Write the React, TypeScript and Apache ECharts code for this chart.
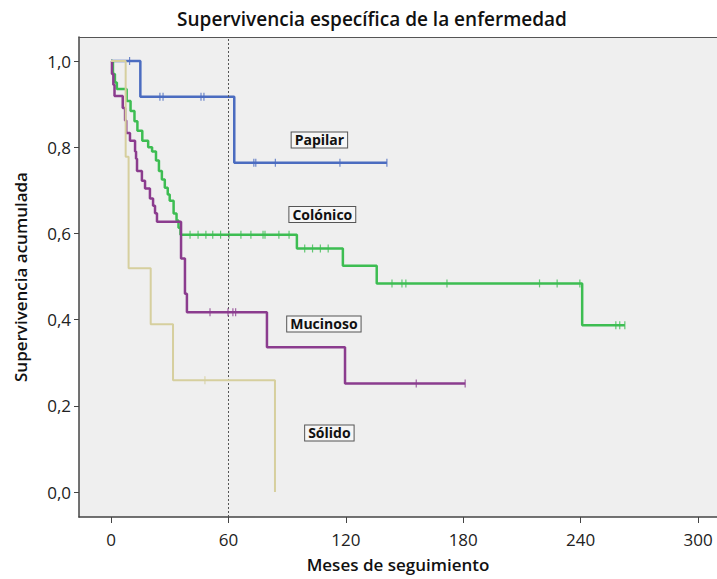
import React, { useEffect, useRef } from "react";
import * as echarts from "echarts";

// Kaplan-Meier steps: each point is [time of drop, survival after drop]
const papilarT = [0, 15, 63, 141];
const papilarS = [1, 0.917, 0.764, 0.764];
const papilarCens = [9.5, 25, 26.6, 46, 47.5, 73, 74, 84, 117, 141];

const colonicoT = [0, 1, 2, 3, 8, 10, 12, 13.5, 16, 19, 21, 23, 24.5, 26, 27.5, 29, 30, 32, 33.5, 34.5, 35.5, 95, 118.5, 135.8, 240.8, 262.6];
const colonicoS = [1, 0.97, 0.95, 0.935, 0.907, 0.884, 0.86, 0.838, 0.815, 0.8, 0.79, 0.769, 0.745, 0.725, 0.706, 0.69, 0.676, 0.646, 0.63, 0.613, 0.597, 0.565, 0.525, 0.484, 0.387, 0.387];
const colonicoCens = [40.4, 44.5, 48.5, 52, 56, 60.3, 66.4, 71.5, 77.7, 78.7, 85.8, 91, 99, 103, 107, 111, 143.6, 148.7, 150.7, 171.7, 219, 228, 239.6, 258, 260, 262.6];

const mucinosoT = [0, 0.5, 1.2, 1.8, 6, 7.2, 7.8, 9.7, 12.3, 12.8, 13.3, 15.8, 17.4, 19.9, 21.5, 22.5, 23.5, 35.8, 37.8, 38.8, 79.7, 119.6, 181];
const mucinosoS = [1, 0.97, 0.945, 0.919, 0.891, 0.862, 0.833, 0.815, 0.79, 0.773, 0.745, 0.722, 0.704, 0.681, 0.664, 0.647, 0.627, 0.542, 0.46, 0.417, 0.336, 0.252, 0.252];
const mucinosoCens = [50.6, 59.8, 62.3, 63.7, 156, 181];

const solidoT = [0, 7.5, 9, 20.3, 31.7, 83.8];
const solidoS = [1, 0.778, 0.519, 0.389, 0.259, 0];
const solidoCens = [48];

const xTicks = [0, 60, 120, 180, 240, 300];
const yTicks = [0, 0.2, 0.4, 0.6, 0.8, 1.0];
const cutoffMonth = 60;

const groups = [
  { name: "Papilar", t: papilarT, s: papilarS, cens: papilarCens, color: "#4b6cc0", width: 2.5, label: [106.5, 0.817] },
  { name: "Colónico", t: colonicoT, s: colonicoS, cens: colonicoCens, color: "#3dbd52", width: 2.5, label: [108, 0.644] },
  { name: "Mucinoso", t: mucinosoT, s: mucinosoS, cens: mucinosoCens, color: "#8b3c8e", width: 2.5, label: [108.8, 0.39] },
  { name: "Sólido", t: solidoT, s: solidoS, cens: solidoCens, color: "#d6cf9e", width: 2, label: [111.6, 0.137] },
];

// survival value of a step curve at time x
function survivalAt(t: number[], s: number[], x: number) {
  let v = s[0];
  for (let i = 0; i < t.length; i++) {
    if (t[i] <= x) v = s[i];
  }
  return v;
}

const FONT = "'Open Sans', 'DejaVu Sans', sans-serif";

export default function App() {
  const ref = useRef<HTMLDivElement>(null);

  useEffect(() => {
    if (!ref.current) return;
    const chart = echarts.init(ref.current, null, { renderer: "svg" });

    const series: any[] = [];
    groups.forEach((g, gi) => {
      series.push({
        name: g.name,
        type: "line",
        step: "end",
        showSymbol: false,
        symbol: "none",
        data: g.t.map((t, i) => [t, g.s[i]]),
        lineStyle: { color: g.color, width: g.width },
        z: 3 + gi,
        markPoint: {
          symbol: "rect",
          symbolSize: 0,
          data: [
            {
              coord: g.label,
              label: {
                show: true,
                position: "inside",
                formatter: g.name,
                color: "#111",
                fontFamily: FONT,
                fontWeight: "bold",
                fontSize: 14,
                backgroundColor: "#f6f6f6",
                borderColor: "#555",
                borderWidth: 1,
                padding: [1, 3, 0, 3],
              },
            },
          ],
        },
        markLine:
          gi === 0
            ? {
                symbol: "none",
                silent: true,
                label: { show: false },
                lineStyle: { color: "#555", type: [2, 2], width: 1 },
                data: [{ xAxis: cutoffMonth }],
              }
            : undefined,
      });
      series.push({
        name: g.name + " censurado",
        type: "scatter",
        symbol: "rect",
        symbolSize: [1.2, 8],
        itemStyle: { color: g.color },
        data: g.cens.map((c) => [c, survivalAt(g.t, g.s, c)]),
        z: 3 + gi,
      });
    });

    chart.setOption({
      animation: false,
      backgroundColor: "#ffffff",
      title: {
        text: "Supervivencia específica de la enfermedad",
        left: 367,
        top: 4,
        textAlign: "center",
        textStyle: { fontFamily: FONT, fontWeight: 600, fontSize: 19, color: "#111" },
      },
      grid: {
        left: 79,
        right: 0,
        top: 37,
        bottom: 62,
        show: true,
        backgroundColor: "#efefef",
        borderWidth: 0,
      },
      xAxis: [
        {
          type: "value",
          min: -16.35,
          max: 309.7,
          name: "Meses de seguimiento",
          nameLocation: "middle",
          nameGap: 39,
          nameTextStyle: { fontFamily: FONT, fontWeight: 600, fontSize: 17, color: "#111" },
          axisLine: { show: true, onZero: false, lineStyle: { color: "#444", width: 1.5 } },
          axisTick: { show: true, length: 6, lineStyle: { color: "#444" }, customValues: xTicks },
          axisLabel: { fontFamily: FONT, fontSize: 17, color: "#222", margin: 14, customValues: xTicks },
          splitLine: { show: false },
        },
        {
          type: "value",
          position: "top",
          min: -16.35,
          max: 309.7,
          axisLine: { show: true, onZero: false, lineStyle: { color: "#555", width: 1 } },
          axisTick: { show: false },
          axisLabel: { show: false },
          splitLine: { show: false },
        },
      ],
      yAxis: {
        type: "value",
        min: -0.058,
        max: 1.0557,
        name: "Supervivencia acumulada",
        nameLocation: "middle",
        nameGap: 50,
        nameTextStyle: { fontFamily: FONT, fontWeight: 600, fontSize: 17, color: "#111" },
        axisLine: { show: true, onZero: false, lineStyle: { color: "#444", width: 1.5 } },
        axisTick: { show: true, length: 5, lineStyle: { color: "#444" }, customValues: yTicks },
        axisLabel: {
          fontFamily: FONT,
          fontSize: 17,
          color: "#222",
          margin: 8,
          customValues: yTicks,
          formatter: (v: number) => v.toFixed(1).replace(".", ","),
        },
        splitLine: { show: false },
      },
      series,
    });

    return () => chart.dispose();
  }, []);

  return <div ref={ref} style={{ width: 717, height: 579, position: "absolute", left: 0, top: 0 }} />;
}
